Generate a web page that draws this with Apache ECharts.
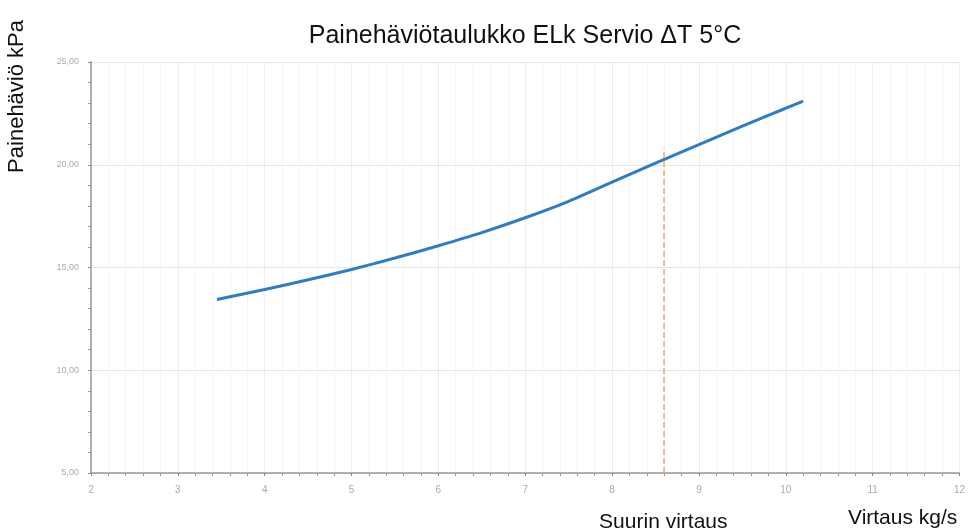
<!DOCTYPE html>
<html>
<head>
<meta charset="utf-8">
<script src="https://cdn.jsdelivr.net/npm/echarts@6/dist/echarts.min.js"></script>
<style>
  html, body { margin: 0; padding: 0; background: #fff; }
  #chart { width: 968px; height: 532px; }
</style>
</head>
<body>
<div id="chart"></div>
<script>
// virtaus kg/s
const flowValues = [3.45, 4, 4.5, 5, 5.5, 6, 6.5, 7, 7.5, 8, 8.5, 9, 9.5, 10, 10.2]
// painehäviö kPa
const pressureValues = [13.44, 13.93, 14.4, 14.9, 15.46, 16.06, 16.7, 17.42, 18.22, 19.15, 20.08, 20.98, 21.88, 22.75, 23.1]
// suurin virtaus -merkintä
const maxFlow = 8.59
const maxFlowTop = 20.8

const chart = echarts.init(document.getElementById('chart'))

const option = {
  animation: false,
  title: {
    text: 'Painehäviötaulukko ELk Servio ΔT 5°C',
    left: 520,
    textAlign: 'center',
    top: 19,
    textStyle: {
      fontFamily: 'Liberation Sans',
      fontSize: 25,
      fontWeight: 'normal',
      color: '#111'
    }
  },
  grid: {
    left: 91,
    right: 7,
    top: 62,
    bottom: 59
  },
  xAxis: {
    type: 'value',
    min: 2,
    max: 12,
    interval: 1,
    axisLine: { show: true, onZero: false, lineStyle: { color: '#999', width: 1.5 } },
    axisTick: { show: true, length: 3, lineStyle: { color: '#888' } },
    minorTick: { show: true, splitNumber: 5, length: 3, lineStyle: { color: '#999' } },
    axisLabel: { color: '#aaa', fontSize: 10, margin: 12, fontFamily: 'Liberation Sans' },
    splitLine: { show: true, lineStyle: { color: '#ececec' } },
    minorSplitLine: { show: true, lineStyle: { color: '#f4f4f4' } }
  },
  yAxis: {
    type: 'value',
    min: 5,
    max: 25,
    interval: 5,
    axisLine: { show: true, lineStyle: { color: '#999', width: 1.5 } },
    axisTick: { show: true, length: 3, lineStyle: { color: '#888' } },
    minorTick: { show: true, splitNumber: 5, length: 3, lineStyle: { color: '#999' } },
    axisLabel: {
      color: '#aaa',
      fontSize: 9,
      margin: 12,
      fontFamily: 'Liberation Sans',
      formatter: v => v.toFixed(2).replace('.', ',')
    },
    splitLine: { show: true, lineStyle: { color: '#e6e6e6' } }
  },
  graphic: [
    {
      type: 'text',
      left: 6,
      top: 20,
      rotation: Math.PI / 2,
      style: {
        text: 'Painehäviö kPa',
        fontFamily: 'Liberation Sans',
        fontSize: 22,
        fill: '#111'
      }
    },
    {
      type: 'text',
      left: 848,
      top: 508,
      style: {
        text: 'Virtaus kg/s',
        fontFamily: 'Liberation Sans',
        fontSize: 21,
        fill: '#111'
      }
    }
  ],
  series: [
    {
      type: 'line',
      data: flowValues.map((x, i) => [x, pressureValues[i]]),
      smooth: 0.2,
      showSymbol: false,
      lineStyle: { color: '#2f7dbf', width: 3 },
      markLine: {
        silent: true,
        symbol: 'none',
        lineStyle: { color: '#f2a66a', type: 'dashed', width: 1.5 },
        label: {
          show: true,
          position: 'start',
          distance: 39,
          formatter: 'Suurin virtaus',
          fontFamily: 'Liberation Sans',
          fontSize: 21,
          color: '#111'
        },
        data: [
          [
            { coord: [maxFlow, 5] },
            { coord: [maxFlow, maxFlowTop] }
          ]
        ]
      }
    }
  ]
}

chart.setOption(option)
</script>
</body>
</html>
